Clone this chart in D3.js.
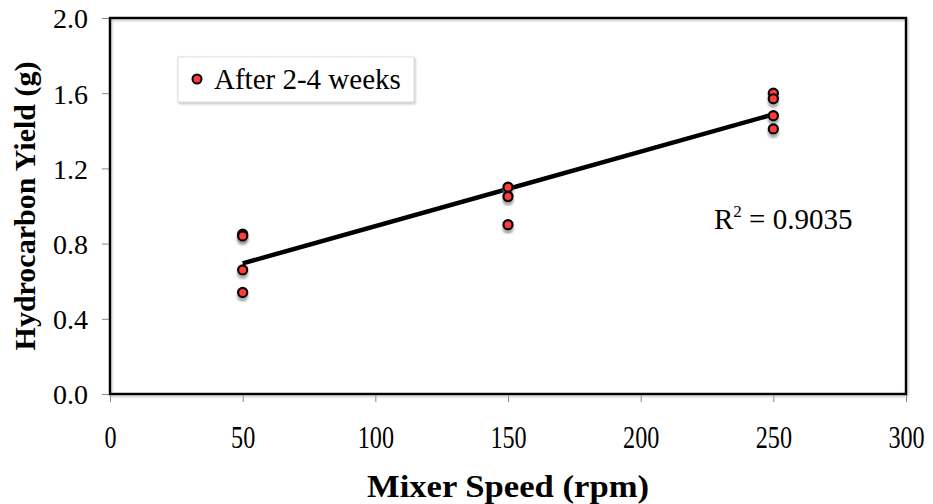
<!DOCTYPE html>
<html>
<head>
<meta charset="utf-8">
<script src="https://cdn.jsdelivr.net/npm/d3@7"></script>
<style>
  body { margin: 0; background: #fff; }
  text { font-family: "Liberation Serif", "Times New Roman", serif; fill: #000; }
</style>
</head>
<body>
<div id="chart"></div>
<script>
// data
const speeds = [50, 50, 50, 50, 150, 150, 150, 250, 250, 250, 250]
const yields = [0.85, 0.84, 0.66, 0.54, 1.10, 1.05, 0.90, 1.60, 1.57, 1.48, 1.41]
const xTicks = [0, 50, 100, 150, 200, 250, 300]
const yTicks = [0.0, 0.4, 0.8, 1.2, 1.6, 2.0]
const seriesName = "After 2-4 weeks"
const r2Label = "0.9035"

const W = 933, H = 504
const MARGIN = { TOP: 18, BOTTOM: 110, LEFT: 110, RIGHT: 27 }

const svg = d3.select("#chart").append("svg")
    .attr("width", W)
    .attr("height", H)

const defs = svg.append("defs")
const shadow = defs.append("filter").attr("id", "shadow")
    .attr("x", "-50%").attr("y", "-50%").attr("width", "200%").attr("height", "200%")
shadow.append("feDropShadow")
    .attr("dx", 0).attr("dy", 3.5).attr("stdDeviation", 1.2)
    .attr("flood-color", "#888").attr("flood-opacity", 0.7)

const boxShadow = defs.append("filter").attr("id", "boxshadow")
    .attr("x", "-10%").attr("y", "-10%").attr("width", "120%").attr("height", "130%")
boxShadow.append("feDropShadow")
    .attr("dx", 1).attr("dy", 1.5).attr("stdDeviation", 0.8)
    .attr("flood-color", "#999").attr("flood-opacity", 0.6)

const x = d3.scaleLinear().domain([0, 300]).range([MARGIN.LEFT, W - MARGIN.RIGHT])
const y = d3.scaleLinear().domain([0, 2]).range([H - MARGIN.BOTTOM, MARGIN.TOP])

// axes (gray outside ticks)
const xAxis = svg.append("g")
    .attr("transform", `translate(0, ${y(0)})`)
    .call(d3.axisBottom(x).tickValues(xTicks).tickSize(8).tickFormat(d3.format("d")))
const yAxis = svg.append("g")
    .attr("transform", `translate(${x(0)}, 0)`)
    .call(d3.axisLeft(y).tickValues(yTicks).tickSize(8).tickPadding(14).tickFormat(d3.format(".1f")))

for (const ax of [xAxis, yAxis]) {
    ax.select(".domain").remove()
    ax.selectAll(".tick line").attr("stroke", "#888").attr("stroke-width", 1)
    ax.selectAll(".tick text")
        .attr("font-size", 28)
        .attr("font-family", "Liberation Serif, Times New Roman, serif")
        .attr("fill", "#000")
}
yAxis.selectAll(".tick text").attr("dy", "0.35em")
// x labels look narrow and tall in the original
xAxis.selectAll(".tick text")
    .attr("y", null).attr("dy", null)
    .attr("font-size", 31)
    .attr("transform", "translate(0, 54) scale(0.78, 1)")

// plot frame
svg.append("rect")
    .attr("x", x(0)).attr("y", y(2))
    .attr("width", x(300) - x(0)).attr("height", y(0) - y(2))
    .attr("fill", "none").attr("stroke", "#000").attr("stroke-width", 2.5)
    .attr("filter", "url(#boxshadow)")

// least squares trend line
const mx = d3.mean(speeds), my = d3.mean(yields)
const sxy = d3.sum(speeds, (d, i) => (d - mx) * (yields[i] - my))
const sxx = d3.sum(speeds, d => (d - mx) ** 2)
const slope = sxy / sxx
const icpt = my - slope * mx
const xr = d3.extent(speeds)

svg.append("line")
    .attr("x1", x(xr[0])).attr("y1", y(icpt + slope * xr[0]))
    .attr("x2", x(xr[1])).attr("y2", y(icpt + slope * xr[1]))
    .attr("stroke", "#000").attr("stroke-width", 4.5)

// points
svg.append("g").selectAll("circle")
    .data(speeds)
    .enter()
    .append("circle")
    .attr("cx", d => x(d))
    .attr("cy", (d, i) => y(yields[i]))
    .attr("r", 4.6)
    .attr("fill", "#ff3b3b")
    .attr("stroke", "#000")
    .attr("stroke-width", 2.2)
    .attr("filter", "url(#shadow)")

// legend
const leg = svg.append("g").attr("transform", "translate(178, 57)")
leg.append("rect")
    .attr("width", 236).attr("height", 45)
    .attr("fill", "#fff").attr("stroke", "#ddd").attr("stroke-width", 1)
    .attr("filter", "url(#boxshadow)")
leg.append("circle")
    .attr("cx", 19).attr("cy", 22).attr("r", 4.5)
    .attr("fill", "#ff3b3b").attr("stroke", "#000").attr("stroke-width", 2)
leg.append("text")
    .attr("x", 36).attr("y", 32)
    .attr("font-size", 29)
    .text(seriesName)

// R squared label
const r2 = svg.append("text")
    .attr("x", 714).attr("y", 229)
    .attr("font-size", 29)
r2.append("tspan").text("R")
r2.append("tspan").attr("font-size", 17).attr("dy", -12).text("2")
r2.append("tspan").attr("dy", 12).text(" = " + r2Label)

// axis titles
svg.append("text")
    .attr("x", (x(0) + x(300)) / 2).attr("y", 497)
    .attr("text-anchor", "middle")
    .attr("font-size", 32).attr("font-weight", "bold")
    .attr("textLength", 282).attr("lengthAdjust", "spacingAndGlyphs")
    .text("Mixer Speed (rpm)")

svg.append("text")
    .attr("transform", `translate(35, ${(y(0) + y(2)) / 2}) rotate(-90)`)
    .attr("text-anchor", "middle")
    .attr("font-size", 30).attr("font-weight", "bold")
    .text("Hydrocarbon Yield (g)")
</script>
</body>
</html>
